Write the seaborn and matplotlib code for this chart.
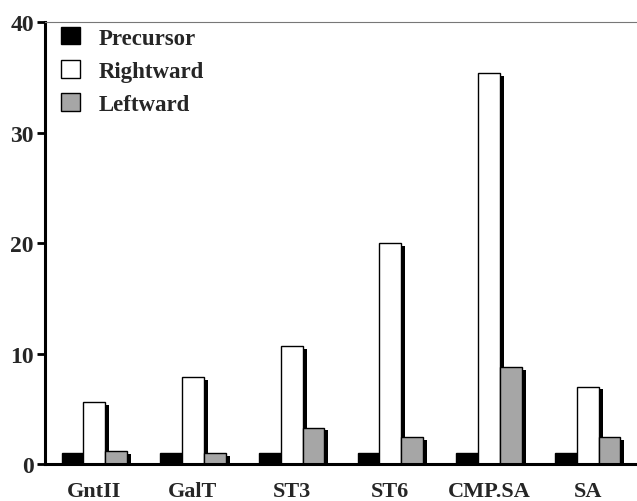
import seaborn as sns
import numpy as np
import pandas as pd
import matplotlib
matplotlib.use('Agg')
import matplotlib.pyplot as plt
import matplotlib.patheffects as pe
from matplotlib.patches import Patch

# values
categories = ['GntII', 'GalT', 'ST3', 'ST6', 'CMP.SA', 'SA']
series = ['Precursor', 'Rightward', 'Leftward']
precursor = [1.0, 1.0, 1.0, 1.0, 1.0, 1.0]
rightward = [5.6, 7.9, 10.7, 20.0, 35.4, 7.0]
leftward = [1.2, 1.0, 3.3, 2.45, 8.8, 2.45]
y_ticks = [0, 10, 20, 30, 40]

colors = {'Precursor': 'black', 'Rightward': 'white', 'Leftward': '#a6a6a6'}

df = pd.DataFrame({
    'category': categories * 3,
    'series': ['Precursor'] * 6 + ['Rightward'] * 6 + ['Leftward'] * 6,
    'value': precursor + rightward + leftward,
})

sns.set_theme(style='white')
plt.rcParams['font.family'] = ['Liberation Serif', 'DejaVu Serif']
plt.rcParams['font.weight'] = 'bold'

fig = plt.figure(figsize=(6.37, 5.02), dpi=100)
ax = fig.add_axes([0.0706, 0.0737, 0.9294, 0.8803])

sns.barplot(data=df, x='category', y='value', hue='series', order=categories,
            hue_order=series, palette=colors, width=0.66, gap=0,
            edgecolor='black', linewidth=1.0, saturation=1, legend=False, ax=ax)

# drop-shadow to the lower right of every bar
for bar in ax.patches:
    bar.set_path_effects([pe.SimplePatchShadow(offset=(3, -2), shadow_rgbFace='black', alpha=1.0),
                          pe.Normal()])

ax.set_xlim(-0.5, 5.5)
ax.set_ylim(0, 40)
ax.set_yticks(y_ticks)
ax.set_xlabel('')
ax.set_ylabel('')

# spines
ax.spines['right'].set_visible(False)
ax.spines['left'].set_linewidth(2.2)
ax.spines['bottom'].set_linewidth(2.2)
ax.spines['top'].set_linewidth(0.8)
ax.spines['top'].set_color('#777777')
ax.spines['top'].set_linestyle((0, (2, 1)))
for s in ['left', 'bottom']:
    ax.spines[s].set_color('black')

# ticks: group separators below x axis, labels centred under groups
ax.set_xticks(np.arange(0.5, 5.0, 1.0), minor=True)
ax.tick_params(axis='x', which='major', length=0, pad=12, labelsize=16)
ax.tick_params(axis='x', which='minor', direction='out', length=6, width=2, color='black')
ax.tick_params(axis='y', direction='out', length=6, width=2, color='black', labelsize=17, pad=2)
ax.tick_params(left=True, bottom=True)
for lab in ax.get_xticklabels() + ax.get_yticklabels():
    lab.set_fontweight('bold')

handles = [Patch(facecolor=colors[s], edgecolor='black', linewidth=1.0) for s in series]
leg = ax.legend(handles, series, loc='upper left', bbox_to_anchor=(0.012, 1.01),
                frameon=False, fontsize=16.5, handlelength=0.8, handleheight=0.8,
                handletextpad=0.85, labelspacing=0.5, borderaxespad=0.1, borderpad=0.3)
for t in leg.get_texts():
    t.set_fontweight('bold')

fig.savefig('out.png', dpi=100)
